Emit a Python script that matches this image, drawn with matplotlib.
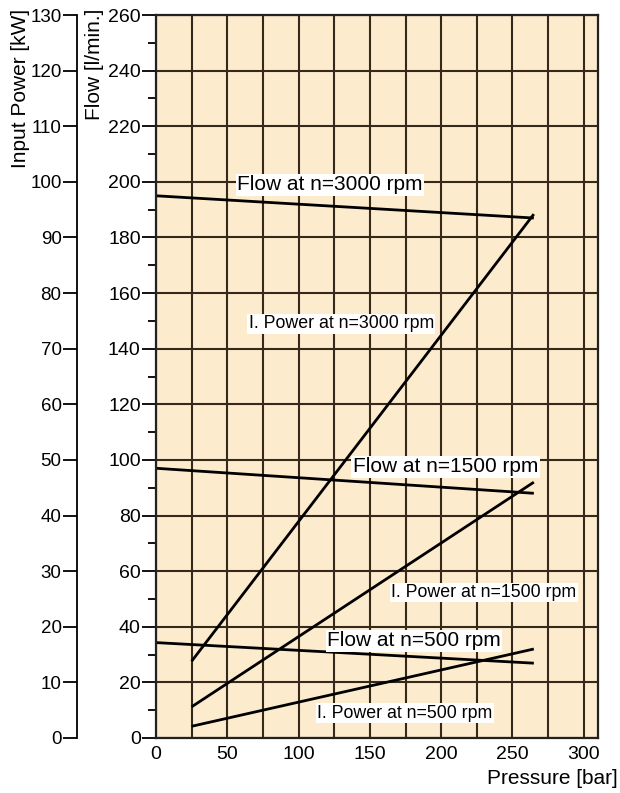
import matplotlib
matplotlib.use("Agg")
import matplotlib.pyplot as plt
from matplotlib.ticker import MultipleLocator

plt.rcParams['font.family'] = ['Liberation Sans', 'DejaVu Sans']

# pressure [bar] at start / end of each line
p_flow = [0, 265]
p_power = [25, 265]

# flow [l/min]
flow_3000 = [195, 187]
flow_1500 = [97, 88]
flow_500 = [34.3, 26.9]

# input power [kW]
power_3000 = [13.8, 94.2]
power_1500 = [5.6, 46]
power_500 = [2.1, 16]

# label text, left x [bar], centre y [l/min]
labels = [
    ("Flow at n=3000 rpm", 57, 199, 15),
    ("I. Power at n=3000 rpm", 65, 149, 12.8),
    ("Flow at n=1500 rpm", 138, 97.6, 15),
    ("I. Power at n=1500 rpm", 165, 52.3, 12.8),
    ("Flow at n=500 rpm", 120, 34.9, 15),
    ("I. Power at n=500 rpm", 113, 8.9, 12.8),
]

bg = '#FDEBCD'
gridc = '#35291c'

fig = plt.figure(figsize=(6.2, 7.93), dpi=100)
ax = fig.add_axes([0.2516, 0.0694, 0.7129, 0.9116])
ax.set_facecolor(bg)
ax.set_xlim(0, 310)
ax.set_ylim(0, 260)

ax.xaxis.set_major_locator(MultipleLocator(50))
ax.xaxis.set_minor_locator(MultipleLocator(25))
ax.yaxis.set_major_locator(MultipleLocator(20))
ax.yaxis.set_minor_locator(MultipleLocator(10))
ax.grid(which='major', axis='y', color=gridc, lw=1.5)
ax.grid(which='both', axis='x', color=gridc, lw=1.5)
ax.set_axisbelow(True)

ax.tick_params(axis='x', which='both', length=0, labelsize=14, pad=6)
ax.tick_params(axis='y', which='major', length=10, width=1.3, labelsize=14, pad=1)
ax.tick_params(axis='y', which='minor', length=6, width=1.3)
for s in ax.spines.values():
    s.set_color('#222222')
    s.set_linewidth(1.6)

lw = 2.0
ax.plot(p_flow, flow_3000, color='black', lw=lw, solid_capstyle='butt')
ax.plot(p_flow, flow_1500, color='black', lw=lw, solid_capstyle='butt')
ax.plot(p_flow, flow_500, color='black', lw=lw, solid_capstyle='butt')

ax2 = ax.twinx()
ax2.set_ylim(0, 130)
ax2.yaxis.set_major_locator(MultipleLocator(10))
ax2.yaxis.set_ticks_position('left')
ax2.spines['left'].set_visible(True)
ax2.spines['left'].set_position(('outward', 57))
ax2.spines['left'].set_linewidth(1.3)
for k in ['right', 'top', 'bottom']:
    ax2.spines[k].set_visible(False)
ax2.tick_params(axis='y', length=10, width=1.3, labelsize=13.5, pad=1)
ax2.plot(p_power, power_3000, color='black', lw=lw, solid_capstyle='butt')
ax2.plot(p_power, power_1500, color='black', lw=lw, solid_capstyle='butt')
ax2.plot(p_power, power_500, color='black', lw=lw, solid_capstyle='butt')

for txt, x, y, fs in labels:
    ax.text(x, y, txt, fontsize=fs, ha='left', va='center', zorder=5,
            bbox=dict(facecolor='white', edgecolor='none', pad=1))

fig.text(21 / 620, 1 - 9 / 793, "Input Power [kW]", rotation=90,
         ha='center', va='top', fontsize=15)
fig.text(94 / 620, 1 - 9 / 793, "Flow [l/min.]", rotation=90,
         ha='center', va='top', fontsize=15)
fig.text(618 / 620, 1 - 778 / 793, "Pressure [bar]", ha='right',
         va='center', fontsize=15)

fig.savefig('out.png', dpi=100, facecolor='white')
